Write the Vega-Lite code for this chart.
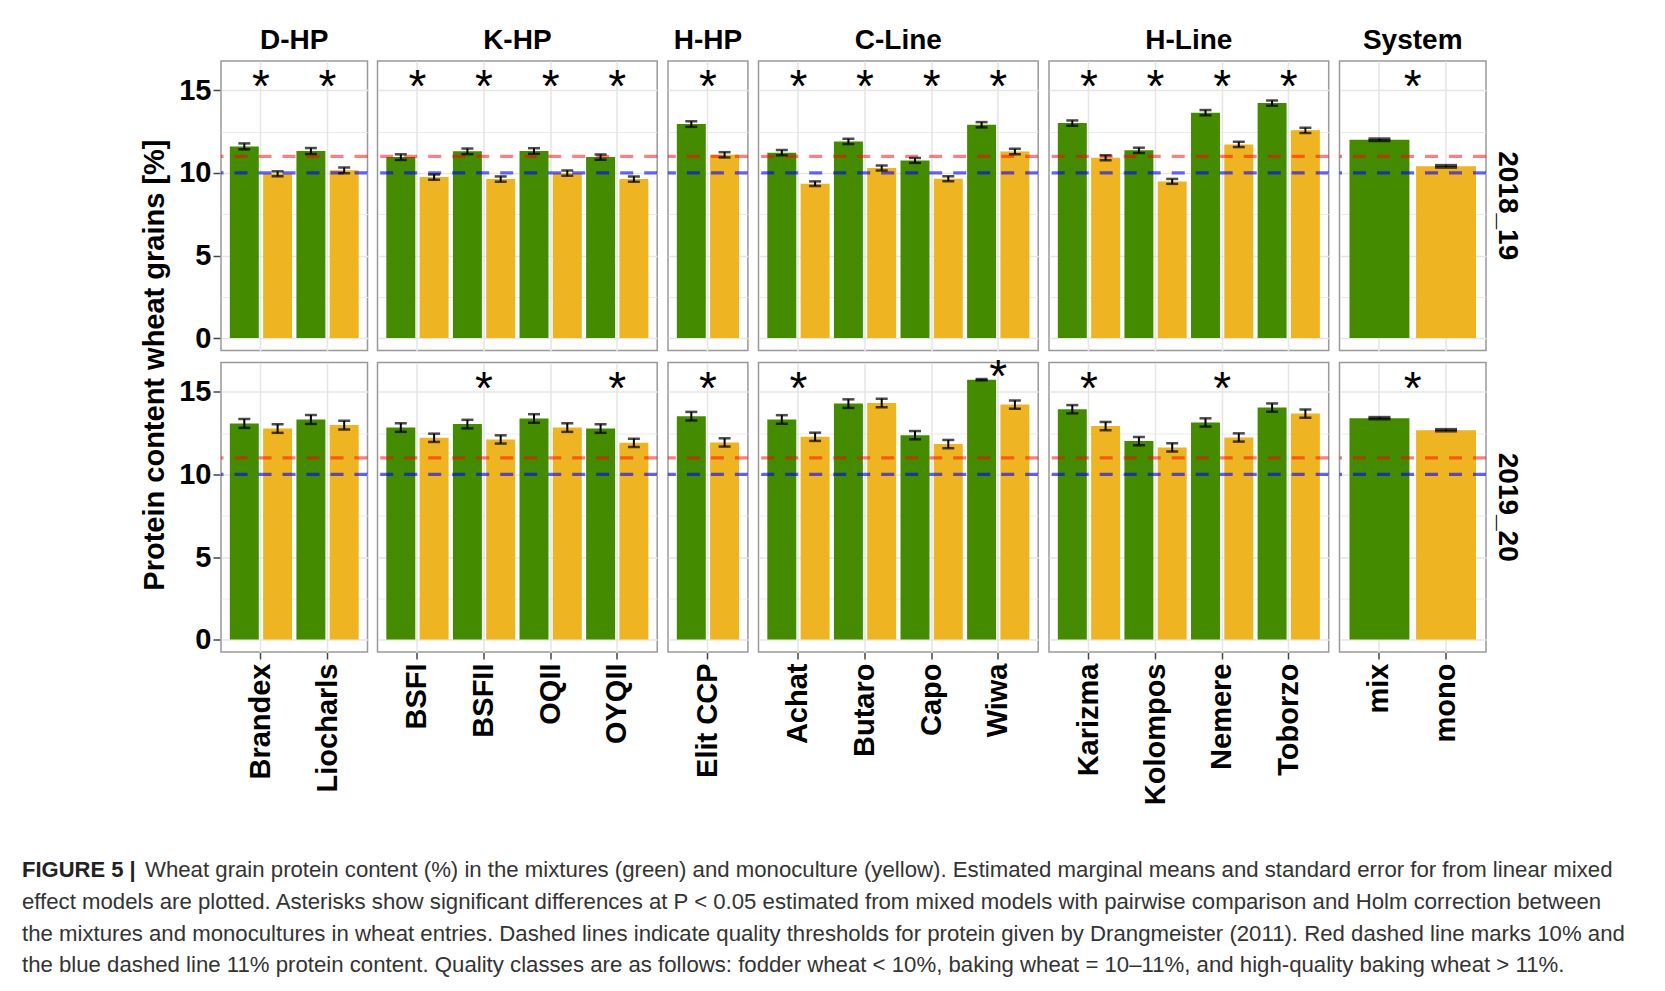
{
  "$schema": "https://vega.github.io/schema/vega-lite/v6.json",
  "padding": {"left": 21, "top": 27, "right": 10, "bottom": 5},
  "background": "white",
  "data": {"values": [
    {"year": "2018_19", "group": "D-HP", "variety": "Brandex", "trt": "mix", "value": 11.61, "lo": 11.43, "hi": 11.79, "star": 15.14},
    {"year": "2018_19", "group": "D-HP", "variety": "Brandex", "trt": "mono", "value": 9.95, "lo": 9.80, "hi": 10.10, "star": null},
    {"year": "2018_19", "group": "D-HP", "variety": "Liocharls", "trt": "mix", "value": 11.33, "lo": 11.15, "hi": 11.51, "star": 15.14},
    {"year": "2018_19", "group": "D-HP", "variety": "Liocharls", "trt": "mono", "value": 10.16, "lo": 9.99, "hi": 10.33, "star": null},
    {"year": "2018_19", "group": "K-HP", "variety": "BSFI", "trt": "mix", "value": 10.96, "lo": 10.79, "hi": 11.13, "star": 15.14},
    {"year": "2018_19", "group": "K-HP", "variety": "BSFI", "trt": "mono", "value": 9.75, "lo": 9.59, "hi": 9.91, "star": null},
    {"year": "2018_19", "group": "K-HP", "variety": "BSFII", "trt": "mix", "value": 11.31, "lo": 11.14, "hi": 11.48, "star": 15.14},
    {"year": "2018_19", "group": "K-HP", "variety": "BSFII", "trt": "mono", "value": 9.63, "lo": 9.47, "hi": 9.79, "star": null},
    {"year": "2018_19", "group": "K-HP", "variety": "OQII", "trt": "mix", "value": 11.33, "lo": 11.16, "hi": 11.50, "star": 15.14},
    {"year": "2018_19", "group": "K-HP", "variety": "OQII", "trt": "mono", "value": 9.99, "lo": 9.83, "hi": 10.15, "star": null},
    {"year": "2018_19", "group": "K-HP", "variety": "OYQII", "trt": "mix", "value": 10.96, "lo": 10.80, "hi": 11.12, "star": 15.14},
    {"year": "2018_19", "group": "K-HP", "variety": "OYQII", "trt": "mono", "value": 9.63, "lo": 9.47, "hi": 9.79, "star": null},
    {"year": "2018_19", "group": "H-HP", "variety": "Elit CCP", "trt": "mix", "value": 12.96, "lo": 12.79, "hi": 13.13, "star": 15.14},
    {"year": "2018_19", "group": "H-HP", "variety": "Elit CCP", "trt": "mono", "value": 11.10, "lo": 10.94, "hi": 11.26, "star": null},
    {"year": "2018_19", "group": "C-Line", "variety": "Achat", "trt": "mix", "value": 11.23, "lo": 11.07, "hi": 11.39, "star": 15.14},
    {"year": "2018_19", "group": "C-Line", "variety": "Achat", "trt": "mono", "value": 9.35, "lo": 9.21, "hi": 9.49, "star": null},
    {"year": "2018_19", "group": "C-Line", "variety": "Butaro", "trt": "mix", "value": 11.91, "lo": 11.75, "hi": 12.07, "star": 15.14},
    {"year": "2018_19", "group": "C-Line", "variety": "Butaro", "trt": "mono", "value": 10.30, "lo": 10.15, "hi": 10.45, "star": null},
    {"year": "2018_19", "group": "C-Line", "variety": "Capo", "trt": "mix", "value": 10.76, "lo": 10.61, "hi": 10.91, "star": 15.14},
    {"year": "2018_19", "group": "C-Line", "variety": "Capo", "trt": "mono", "value": 9.65, "lo": 9.50, "hi": 9.80, "star": null},
    {"year": "2018_19", "group": "C-Line", "variety": "Wiwa", "trt": "mix", "value": 12.92, "lo": 12.76, "hi": 13.08, "star": 15.14},
    {"year": "2018_19", "group": "C-Line", "variety": "Wiwa", "trt": "mono", "value": 11.30, "lo": 11.14, "hi": 11.46, "star": null},
    {"year": "2018_19", "group": "H-Line", "variety": "Karizma", "trt": "mix", "value": 13.02, "lo": 12.86, "hi": 13.18, "star": 15.14},
    {"year": "2018_19", "group": "H-Line", "variety": "Karizma", "trt": "mono", "value": 10.92, "lo": 10.77, "hi": 11.07, "star": null},
    {"year": "2018_19", "group": "H-Line", "variety": "Kolompos", "trt": "mix", "value": 11.37, "lo": 11.21, "hi": 11.53, "star": 15.14},
    {"year": "2018_19", "group": "H-Line", "variety": "Kolompos", "trt": "mono", "value": 9.49, "lo": 9.34, "hi": 9.64, "star": null},
    {"year": "2018_19", "group": "H-Line", "variety": "Nemere", "trt": "mix", "value": 13.65, "lo": 13.49, "hi": 13.81, "star": 15.14},
    {"year": "2018_19", "group": "H-Line", "variety": "Nemere", "trt": "mono", "value": 11.73, "lo": 11.57, "hi": 11.89, "star": null},
    {"year": "2018_19", "group": "H-Line", "variety": "Toborzo", "trt": "mix", "value": 14.23, "lo": 14.07, "hi": 14.39, "star": 15.14},
    {"year": "2018_19", "group": "H-Line", "variety": "Toborzo", "trt": "mono", "value": 12.58, "lo": 12.42, "hi": 12.74, "star": null},
    {"year": "2018_19", "group": "System", "variety": "mix", "trt": "mix", "value": 12.01, "lo": 11.95, "hi": 12.07, "star": 15.14},
    {"year": "2018_19", "group": "System", "variety": "mono", "trt": "mono", "value": 10.40, "lo": 10.34, "hi": 10.46, "star": null},
    {"year": "2019_20", "group": "D-HP", "variety": "Brandex", "trt": "mix", "value": 13.09, "lo": 12.82, "hi": 13.36, "star": null},
    {"year": "2019_20", "group": "D-HP", "variety": "Brandex", "trt": "mono", "value": 12.78, "lo": 12.52, "hi": 13.04, "star": null},
    {"year": "2019_20", "group": "D-HP", "variety": "Liocharls", "trt": "mix", "value": 13.33, "lo": 13.06, "hi": 13.60, "star": null},
    {"year": "2019_20", "group": "D-HP", "variety": "Liocharls", "trt": "mono", "value": 12.99, "lo": 12.73, "hi": 13.25, "star": null},
    {"year": "2019_20", "group": "K-HP", "variety": "BSFI", "trt": "mix", "value": 12.84, "lo": 12.58, "hi": 13.10, "star": null},
    {"year": "2019_20", "group": "K-HP", "variety": "BSFI", "trt": "mono", "value": 12.22, "lo": 11.97, "hi": 12.47, "star": null},
    {"year": "2019_20", "group": "K-HP", "variety": "BSFII", "trt": "mix", "value": 13.05, "lo": 12.79, "hi": 13.31, "star": 15.14},
    {"year": "2019_20", "group": "K-HP", "variety": "BSFII", "trt": "mono", "value": 12.12, "lo": 11.87, "hi": 12.37, "star": null},
    {"year": "2019_20", "group": "K-HP", "variety": "OQII", "trt": "mix", "value": 13.39, "lo": 13.13, "hi": 13.65, "star": null},
    {"year": "2019_20", "group": "K-HP", "variety": "OQII", "trt": "mono", "value": 12.84, "lo": 12.58, "hi": 13.10, "star": null},
    {"year": "2019_20", "group": "K-HP", "variety": "OYQII", "trt": "mix", "value": 12.78, "lo": 12.52, "hi": 13.04, "star": 15.14},
    {"year": "2019_20", "group": "K-HP", "variety": "OYQII", "trt": "mono", "value": 11.92, "lo": 11.67, "hi": 12.17, "star": null},
    {"year": "2019_20", "group": "H-HP", "variety": "Elit CCP", "trt": "mix", "value": 13.53, "lo": 13.27, "hi": 13.79, "star": 15.14},
    {"year": "2019_20", "group": "H-HP", "variety": "Elit CCP", "trt": "mono", "value": 11.94, "lo": 11.69, "hi": 12.19, "star": null},
    {"year": "2019_20", "group": "C-Line", "variety": "Achat", "trt": "mix", "value": 13.33, "lo": 13.07, "hi": 13.59, "star": 15.14},
    {"year": "2019_20", "group": "C-Line", "variety": "Achat", "trt": "mono", "value": 12.28, "lo": 12.03, "hi": 12.53, "star": null},
    {"year": "2019_20", "group": "C-Line", "variety": "Butaro", "trt": "mix", "value": 14.29, "lo": 14.03, "hi": 14.55, "star": null},
    {"year": "2019_20", "group": "C-Line", "variety": "Butaro", "trt": "mono", "value": 14.33, "lo": 14.07, "hi": 14.59, "star": null},
    {"year": "2019_20", "group": "C-Line", "variety": "Capo", "trt": "mix", "value": 12.38, "lo": 12.13, "hi": 12.63, "star": null},
    {"year": "2019_20", "group": "C-Line", "variety": "Capo", "trt": "mono", "value": 11.84, "lo": 11.59, "hi": 12.09, "star": null},
    {"year": "2019_20", "group": "C-Line", "variety": "Wiwa", "trt": "mix", "value": 15.74, "lo": 15.70, "hi": 15.78, "star": 15.85},
    {"year": "2019_20", "group": "C-Line", "variety": "Wiwa", "trt": "mono", "value": 14.23, "lo": 13.98, "hi": 14.48, "star": null},
    {"year": "2019_20", "group": "H-Line", "variety": "Karizma", "trt": "mix", "value": 13.95, "lo": 13.70, "hi": 14.20, "star": 15.14},
    {"year": "2019_20", "group": "H-Line", "variety": "Karizma", "trt": "mono", "value": 12.93, "lo": 12.68, "hi": 13.18, "star": null},
    {"year": "2019_20", "group": "H-Line", "variety": "Kolompos", "trt": "mix", "value": 12.02, "lo": 11.77, "hi": 12.27, "star": null},
    {"year": "2019_20", "group": "H-Line", "variety": "Kolompos", "trt": "mono", "value": 11.64, "lo": 11.39, "hi": 11.89, "star": null},
    {"year": "2019_20", "group": "H-Line", "variety": "Nemere", "trt": "mix", "value": 13.15, "lo": 12.90, "hi": 13.40, "star": 15.14},
    {"year": "2019_20", "group": "H-Line", "variety": "Nemere", "trt": "mono", "value": 12.24, "lo": 11.99, "hi": 12.49, "star": null},
    {"year": "2019_20", "group": "H-Line", "variety": "Toborzo", "trt": "mix", "value": 14.05, "lo": 13.80, "hi": 14.30, "star": null},
    {"year": "2019_20", "group": "H-Line", "variety": "Toborzo", "trt": "mono", "value": 13.69, "lo": 13.44, "hi": 13.94, "star": null},
    {"year": "2019_20", "group": "System", "variety": "mix", "trt": "mix", "value": 13.41, "lo": 13.36, "hi": 13.46, "star": 15.14},
    {"year": "2019_20", "group": "System", "variety": "mono", "trt": "mono", "value": 12.68, "lo": 12.63, "hi": 12.73, "star": null}
  ]},
  "title": {
    "text": [
      "effect models are plotted. Asterisks show significant differences at P < 0.05 estimated from mixed models with pairwise comparison and Holm correction between",
      "the mixtures and monocultures in wheat entries. Dashed lines indicate quality thresholds for protein given by Drangmeister (2011). Red dashed line marks 10% and",
      "the blue dashed line 11% protein content. Quality classes are as follows: fodder wheat < 10%, baking wheat = 10–11%, and high-quality baking wheat > 11%."
    ],
    "orient": "bottom", "anchor": "start", "frame": "bounds",
    "fontSize": 22.2, "fontWeight": "normal", "color": "#333333", "lineHeight": 31.8,
    "dx": 0, "offset": 9.8
  },
  "vconcat": [
    {
      "title": {
        "text": "Wheat grain protein content (%) in the mixtures (green) and monoculture (yellow). Estimated marginal means and standard error for from linear mixed",
        "orient": "bottom", "anchor": "start", "frame": "bounds",
        "fontSize": 22.2, "fontWeight": "normal", "color": "#333333",
        "dx": 123, "dy": -22, "offset": 0
      },
      "vconcat": [
        {
          "title": {"text": "FIGURE 5 |", "orient": "bottom", "anchor": "start", "frame": "bounds", "fontSize": 22, "fontWeight": "bold", "color": "#222222", "dx": -119, "offset": 55},
          "hconcat": [
            {
              "transform": [{"filter": "datum.group === 'D-HP'"}],
              "facet": {"column": {"field": "group", "type": "nominal", "title": null}, "row": {"field": "year", "type": "nominal", "title": "Protein content wheat grains [%]\u00a0\u00a0\u200b", "header": {"labels": false, "titleFontSize": 29, "titleFontWeight": "bold", "titleColor": "black", "titlePadding": -2}}},
              "spacing": {"row": 11.5},
              "bounds": "flush",
              "spec": {
                "width": 146.5, "height": 289.5,
                "layer": [
                  {"mark": {"type": "bar"}, "encoding": {
                    "x": {"field": "variety", "type": "nominal", "sort": null, "title": null, "scale": {"paddingInner": 0, "paddingOuter": 0.1}},
                    "xOffset": {"field": "trt", "type": "nominal", "scale": {"domain": ["mix", "mono"], "paddingInner": 0.13, "paddingOuter": 0.065}},
                    "y": {"field": "value", "type": "quantitative", "title": null, "scale": {"domain": [-0.75, 16.78], "nice": false}, "axis": {"values": [0, 2.5, 5, 7.5, 10, 12.5, 15], "labelExpr": "datum.value % 5 === 0 ? datum.label : ''", "tickOpacity": {"condition": {"test": "datum.value % 5 !== 0", "value": 0}, "value": 1}, "gridWidth": {"condition": {"test": "datum.value % 5 !== 0", "value": 0.8}, "value": 1.6}}},
                    "color": {"field": "trt", "type": "nominal", "scale": {"domain": ["mix", "mono"], "range": ["#458B00", "#EEB422"]}, "legend": null}}},
                  {"transform": [{"filter": "datum.variety === 'Brandex' && datum.trt === 'mix'"}], "mark": {"type": "rule", "color": "#ff0000", "opacity": 0.5, "strokeWidth": 3.2, "strokeDash": [13, 11]}, "encoding": {"y": {"datum": 11, "title": null}}},
                  {"transform": [{"filter": "datum.variety === 'Brandex' && datum.trt === 'mix'"}], "mark": {"type": "rule", "color": "#0000ff", "opacity": 0.6, "strokeWidth": 3.2, "strokeDash": [13, 11]}, "encoding": {"y": {"datum": 10, "title": null}}},
                  {"mark": {"type": "rule", "color": "black", "strokeWidth": 2}, "encoding": {"x": {"field": "variety", "type": "nominal", "sort": null, "title": null}, "xOffset": {"field": "trt", "type": "nominal"}, "y": {"field": "lo", "type": "quantitative", "title": null}, "y2": {"field": "hi"}}},
                  {"mark": {"type": "tick", "color": "black", "size": 12, "thickness": 2.5}, "encoding": {"x": {"field": "variety", "type": "nominal", "sort": null, "title": null}, "xOffset": {"field": "trt", "type": "nominal"}, "y": {"field": "lo", "type": "quantitative", "title": null}}},
                  {"mark": {"type": "tick", "color": "black", "size": 12, "thickness": 2.5}, "encoding": {"x": {"field": "variety", "type": "nominal", "sort": null, "title": null}, "xOffset": {"field": "trt", "type": "nominal"}, "y": {"field": "hi", "type": "quantitative", "title": null}}},
                  {"transform": [{"filter": "datum.star != null"}], "mark": {"type": "text", "text": "*", "fontSize": 46, "baseline": "middle", "color": "black"}, "encoding": {"x": {"field": "variety", "type": "nominal", "sort": null, "title": null}, "y": {"field": "star", "type": "quantitative", "title": null}}}
                ]
              }
            },
            {
              "transform": [{"filter": "datum.group === 'K-HP'"}],
              "facet": {"column": {"field": "group", "type": "nominal", "title": null}, "row": {"field": "year", "type": "nominal", "title": null, "header": {"labels": false}}},
              "spacing": {"row": 11.5},
              "bounds": "flush",
              "spec": {
                "width": 279.7, "height": 289.5,
                "layer": [
                  {"mark": {"type": "bar"}, "encoding": {
                    "x": {"field": "variety", "type": "nominal", "sort": null, "title": null, "scale": {"paddingInner": 0, "paddingOuter": 0.1}},
                    "xOffset": {"field": "trt", "type": "nominal", "scale": {"domain": ["mix", "mono"], "paddingInner": 0.13, "paddingOuter": 0.065}},
                    "y": {"field": "value", "type": "quantitative", "title": null, "scale": {"domain": [-0.75, 16.78], "nice": false}, "axis": {"values": [0, 2.5, 5, 7.5, 10, 12.5, 15], "labels": false, "ticks": false, "gridWidth": {"condition": {"test": "datum.value % 5 !== 0", "value": 0.8}, "value": 1.6}}},
                    "color": {"field": "trt", "type": "nominal", "scale": {"domain": ["mix", "mono"], "range": ["#458B00", "#EEB422"]}, "legend": null}}},
                  {"transform": [{"filter": "datum.variety === 'BSFI' && datum.trt === 'mix'"}], "mark": {"type": "rule", "color": "#ff0000", "opacity": 0.5, "strokeWidth": 3.2, "strokeDash": [13, 11]}, "encoding": {"y": {"datum": 11, "title": null}}},
                  {"transform": [{"filter": "datum.variety === 'BSFI' && datum.trt === 'mix'"}], "mark": {"type": "rule", "color": "#0000ff", "opacity": 0.6, "strokeWidth": 3.2, "strokeDash": [13, 11]}, "encoding": {"y": {"datum": 10, "title": null}}},
                  {"mark": {"type": "rule", "color": "black", "strokeWidth": 2}, "encoding": {"x": {"field": "variety", "type": "nominal", "sort": null, "title": null}, "xOffset": {"field": "trt", "type": "nominal"}, "y": {"field": "lo", "type": "quantitative", "title": null}, "y2": {"field": "hi"}}},
                  {"mark": {"type": "tick", "color": "black", "size": 12, "thickness": 2.5}, "encoding": {"x": {"field": "variety", "type": "nominal", "sort": null, "title": null}, "xOffset": {"field": "trt", "type": "nominal"}, "y": {"field": "lo", "type": "quantitative", "title": null}}},
                  {"mark": {"type": "tick", "color": "black", "size": 12, "thickness": 2.5}, "encoding": {"x": {"field": "variety", "type": "nominal", "sort": null, "title": null}, "xOffset": {"field": "trt", "type": "nominal"}, "y": {"field": "hi", "type": "quantitative", "title": null}}},
                  {"transform": [{"filter": "datum.star != null"}], "mark": {"type": "text", "text": "*", "fontSize": 46, "baseline": "middle", "color": "black"}, "encoding": {"x": {"field": "variety", "type": "nominal", "sort": null, "title": null}, "y": {"field": "star", "type": "quantitative", "title": null}}}
                ]
              }
            },
            {
              "transform": [{"filter": "datum.group === 'H-HP'"}],
              "facet": {"column": {"field": "group", "type": "nominal", "title": null}, "row": {"field": "year", "type": "nominal", "title": null, "header": {"labels": false}}},
              "spacing": {"row": 11.5},
              "bounds": "flush",
              "spec": {
                "width": 79.9, "height": 289.5,
                "layer": [
                  {"mark": {"type": "bar"}, "encoding": {
                    "x": {"field": "variety", "type": "nominal", "sort": null, "title": null, "scale": {"paddingInner": 0, "paddingOuter": 0.1}},
                    "xOffset": {"field": "trt", "type": "nominal", "scale": {"domain": ["mix", "mono"], "paddingInner": 0.13, "paddingOuter": 0.065}},
                    "y": {"field": "value", "type": "quantitative", "title": null, "scale": {"domain": [-0.75, 16.78], "nice": false}, "axis": {"values": [0, 2.5, 5, 7.5, 10, 12.5, 15], "labels": false, "ticks": false, "gridWidth": {"condition": {"test": "datum.value % 5 !== 0", "value": 0.8}, "value": 1.6}}},
                    "color": {"field": "trt", "type": "nominal", "scale": {"domain": ["mix", "mono"], "range": ["#458B00", "#EEB422"]}, "legend": null}}},
                  {"transform": [{"filter": "datum.trt === 'mix'"}], "mark": {"type": "rule", "color": "#ff0000", "opacity": 0.5, "strokeWidth": 3.2, "strokeDash": [13, 11]}, "encoding": {"y": {"datum": 11, "title": null}}},
                  {"transform": [{"filter": "datum.trt === 'mix'"}], "mark": {"type": "rule", "color": "#0000ff", "opacity": 0.6, "strokeWidth": 3.2, "strokeDash": [13, 11]}, "encoding": {"y": {"datum": 10, "title": null}}},
                  {"mark": {"type": "rule", "color": "black", "strokeWidth": 2}, "encoding": {"x": {"field": "variety", "type": "nominal", "sort": null, "title": null}, "xOffset": {"field": "trt", "type": "nominal"}, "y": {"field": "lo", "type": "quantitative", "title": null}, "y2": {"field": "hi"}}},
                  {"mark": {"type": "tick", "color": "black", "size": 12, "thickness": 2.5}, "encoding": {"x": {"field": "variety", "type": "nominal", "sort": null, "title": null}, "xOffset": {"field": "trt", "type": "nominal"}, "y": {"field": "lo", "type": "quantitative", "title": null}}},
                  {"mark": {"type": "tick", "color": "black", "size": 12, "thickness": 2.5}, "encoding": {"x": {"field": "variety", "type": "nominal", "sort": null, "title": null}, "xOffset": {"field": "trt", "type": "nominal"}, "y": {"field": "hi", "type": "quantitative", "title": null}}},
                  {"transform": [{"filter": "datum.star != null"}], "mark": {"type": "text", "text": "*", "fontSize": 46, "baseline": "middle", "color": "black"}, "encoding": {"x": {"field": "variety", "type": "nominal", "sort": null, "title": null}, "y": {"field": "star", "type": "quantitative", "title": null}}}
                ]
              }
            },
            {
              "transform": [{"filter": "datum.group === 'C-Line'"}],
              "facet": {"column": {"field": "group", "type": "nominal", "title": null}, "row": {"field": "year", "type": "nominal", "title": null, "header": {"labels": false}}},
              "spacing": {"row": 11.5},
              "bounds": "flush",
              "spec": {
                "width": 279.7, "height": 289.5,
                "layer": [
                  {"mark": {"type": "bar"}, "encoding": {
                    "x": {"field": "variety", "type": "nominal", "sort": null, "title": null, "scale": {"paddingInner": 0, "paddingOuter": 0.1}},
                    "xOffset": {"field": "trt", "type": "nominal", "scale": {"domain": ["mix", "mono"], "paddingInner": 0.13, "paddingOuter": 0.065}},
                    "y": {"field": "value", "type": "quantitative", "title": null, "scale": {"domain": [-0.75, 16.78], "nice": false}, "axis": {"values": [0, 2.5, 5, 7.5, 10, 12.5, 15], "labels": false, "ticks": false, "gridWidth": {"condition": {"test": "datum.value % 5 !== 0", "value": 0.8}, "value": 1.6}}},
                    "color": {"field": "trt", "type": "nominal", "scale": {"domain": ["mix", "mono"], "range": ["#458B00", "#EEB422"]}, "legend": null}}},
                  {"transform": [{"filter": "datum.variety === 'Achat' && datum.trt === 'mix'"}], "mark": {"type": "rule", "color": "#ff0000", "opacity": 0.5, "strokeWidth": 3.2, "strokeDash": [13, 11]}, "encoding": {"y": {"datum": 11, "title": null}}},
                  {"transform": [{"filter": "datum.variety === 'Achat' && datum.trt === 'mix'"}], "mark": {"type": "rule", "color": "#0000ff", "opacity": 0.6, "strokeWidth": 3.2, "strokeDash": [13, 11]}, "encoding": {"y": {"datum": 10, "title": null}}},
                  {"mark": {"type": "rule", "color": "black", "strokeWidth": 2}, "encoding": {"x": {"field": "variety", "type": "nominal", "sort": null, "title": null}, "xOffset": {"field": "trt", "type": "nominal"}, "y": {"field": "lo", "type": "quantitative", "title": null}, "y2": {"field": "hi"}}},
                  {"mark": {"type": "tick", "color": "black", "size": 12, "thickness": 2.5}, "encoding": {"x": {"field": "variety", "type": "nominal", "sort": null, "title": null}, "xOffset": {"field": "trt", "type": "nominal"}, "y": {"field": "lo", "type": "quantitative", "title": null}}},
                  {"mark": {"type": "tick", "color": "black", "size": 12, "thickness": 2.5}, "encoding": {"x": {"field": "variety", "type": "nominal", "sort": null, "title": null}, "xOffset": {"field": "trt", "type": "nominal"}, "y": {"field": "hi", "type": "quantitative", "title": null}}},
                  {"transform": [{"filter": "datum.star != null"}], "mark": {"type": "text", "text": "*", "fontSize": 46, "baseline": "middle", "color": "black"}, "encoding": {"x": {"field": "variety", "type": "nominal", "sort": null, "title": null}, "y": {"field": "star", "type": "quantitative", "title": null}}}
                ]
              }
            },
            {
              "transform": [{"filter": "datum.group === 'H-Line'"}],
              "facet": {"column": {"field": "group", "type": "nominal", "title": null}, "row": {"field": "year", "type": "nominal", "title": null, "header": {"labels": false}}},
              "spacing": {"row": 11.5},
              "bounds": "flush",
              "spec": {
                "width": 279.7, "height": 289.5,
                "layer": [
                  {"mark": {"type": "bar"}, "encoding": {
                    "x": {"field": "variety", "type": "nominal", "sort": null, "title": null, "scale": {"paddingInner": 0, "paddingOuter": 0.1}},
                    "xOffset": {"field": "trt", "type": "nominal", "scale": {"domain": ["mix", "mono"], "paddingInner": 0.13, "paddingOuter": 0.065}},
                    "y": {"field": "value", "type": "quantitative", "title": null, "scale": {"domain": [-0.75, 16.78], "nice": false}, "axis": {"values": [0, 2.5, 5, 7.5, 10, 12.5, 15], "labels": false, "ticks": false, "gridWidth": {"condition": {"test": "datum.value % 5 !== 0", "value": 0.8}, "value": 1.6}}},
                    "color": {"field": "trt", "type": "nominal", "scale": {"domain": ["mix", "mono"], "range": ["#458B00", "#EEB422"]}, "legend": null}}},
                  {"transform": [{"filter": "datum.variety === 'Karizma' && datum.trt === 'mix'"}], "mark": {"type": "rule", "color": "#ff0000", "opacity": 0.5, "strokeWidth": 3.2, "strokeDash": [13, 11]}, "encoding": {"y": {"datum": 11, "title": null}}},
                  {"transform": [{"filter": "datum.variety === 'Karizma' && datum.trt === 'mix'"}], "mark": {"type": "rule", "color": "#0000ff", "opacity": 0.6, "strokeWidth": 3.2, "strokeDash": [13, 11]}, "encoding": {"y": {"datum": 10, "title": null}}},
                  {"mark": {"type": "rule", "color": "black", "strokeWidth": 2}, "encoding": {"x": {"field": "variety", "type": "nominal", "sort": null, "title": null}, "xOffset": {"field": "trt", "type": "nominal"}, "y": {"field": "lo", "type": "quantitative", "title": null}, "y2": {"field": "hi"}}},
                  {"mark": {"type": "tick", "color": "black", "size": 12, "thickness": 2.5}, "encoding": {"x": {"field": "variety", "type": "nominal", "sort": null, "title": null}, "xOffset": {"field": "trt", "type": "nominal"}, "y": {"field": "lo", "type": "quantitative", "title": null}}},
                  {"mark": {"type": "tick", "color": "black", "size": 12, "thickness": 2.5}, "encoding": {"x": {"field": "variety", "type": "nominal", "sort": null, "title": null}, "xOffset": {"field": "trt", "type": "nominal"}, "y": {"field": "hi", "type": "quantitative", "title": null}}},
                  {"transform": [{"filter": "datum.star != null"}], "mark": {"type": "text", "text": "*", "fontSize": 46, "baseline": "middle", "color": "black"}, "encoding": {"x": {"field": "variety", "type": "nominal", "sort": null, "title": null}, "y": {"field": "star", "type": "quantitative", "title": null}}}
                ]
              }
            },
            {
              "transform": [{"filter": "datum.group === 'System'"}],
              "facet": {"column": {"field": "group", "type": "nominal", "title": null}, "row": {"field": "year", "type": "nominal", "title": null, "header": {"labelOrient": "right", "labelAngle": 90, "labelFontSize": 28, "labelFontWeight": "bold", "labelColor": "black", "labelPadding": 6}}},
              "spacing": {"row": 11.5},
              "bounds": "flush",
              "spec": {
                "width": 146.5, "height": 289.5,
                "layer": [
                  {"mark": {"type": "bar", "width": {"band": 0.9}}, "encoding": {
                    "x": {"field": "variety", "type": "nominal", "sort": null, "title": null, "scale": {"paddingInner": 0, "paddingOuter": 0.1}},
                    "y": {"field": "value", "type": "quantitative", "title": null, "scale": {"domain": [-0.75, 16.78], "nice": false}, "axis": {"values": [0, 2.5, 5, 7.5, 10, 12.5, 15], "labels": false, "ticks": false, "gridWidth": {"condition": {"test": "datum.value % 5 !== 0", "value": 0.8}, "value": 1.6}}},
                    "color": {"field": "trt", "type": "nominal", "scale": {"domain": ["mix", "mono"], "range": ["#458B00", "#EEB422"]}, "legend": null}}},
                  {"transform": [{"filter": "datum.trt === 'mix'"}], "mark": {"type": "rule", "color": "#ff0000", "opacity": 0.5, "strokeWidth": 3.2, "strokeDash": [13, 11]}, "encoding": {"y": {"datum": 11, "title": null}}},
                  {"transform": [{"filter": "datum.trt === 'mix'"}], "mark": {"type": "rule", "color": "#0000ff", "opacity": 0.6, "strokeWidth": 3.2, "strokeDash": [13, 11]}, "encoding": {"y": {"datum": 10, "title": null}}},
                  {"mark": {"type": "rule", "color": "black", "strokeWidth": 2}, "encoding": {"x": {"field": "variety", "type": "nominal", "sort": null, "title": null}, "y": {"field": "lo", "type": "quantitative", "title": null}, "y2": {"field": "hi"}}},
                  {"mark": {"type": "tick", "color": "black", "size": 22, "thickness": 3}, "encoding": {"x": {"field": "variety", "type": "nominal", "sort": null, "title": null}, "y": {"field": "lo", "type": "quantitative", "title": null}}},
                  {"mark": {"type": "tick", "color": "black", "size": 22, "thickness": 3}, "encoding": {"x": {"field": "variety", "type": "nominal", "sort": null, "title": null}, "y": {"field": "hi", "type": "quantitative", "title": null}}},
                  {"transform": [{"filter": "datum.star != null"}], "mark": {"type": "text", "text": "*", "fontSize": 46, "baseline": "middle", "color": "black", "dx": 33.3}, "encoding": {"x": {"field": "variety", "type": "nominal", "sort": null, "title": null}, "y": {"field": "star", "type": "quantitative", "title": null}}}
                ]
              }
            }
          ],
          "spacing": 4.5
        }
      ]
    }
  ],
  "config": {
    "font": "Liberation Sans",
    "view": {"stroke": "#999999", "strokeWidth": 1.5},
    "axis": {"labelFont": "Liberation Sans", "labelFontWeight": "bold", "labelColor": "black", "tickColor": "#444444", "tickWidth": 1.5, "domain": false, "grid": true, "gridColor": "#e6e6e6", "titleFont": "Liberation Sans", "titleColor": "black"},
    "axisX": {"labelAngle": -90, "labelFontSize": 29, "tickSize": 7, "labelPadding": 4, "bandPosition": 0.5, "gridWidth": 1.6},
    "axisY": {"labelFontSize": 29, "tickSize": 8, "labelPadding": 2},
    "header": {"labelFont": "Liberation Sans", "titleFont": "Liberation Sans"},
    "headerColumn": {"labelFontSize": 28, "labelFontWeight": "bold", "labelColor": "black", "labelPadding": 6},
    "title": {"font": "Liberation Sans"}
  }
}
